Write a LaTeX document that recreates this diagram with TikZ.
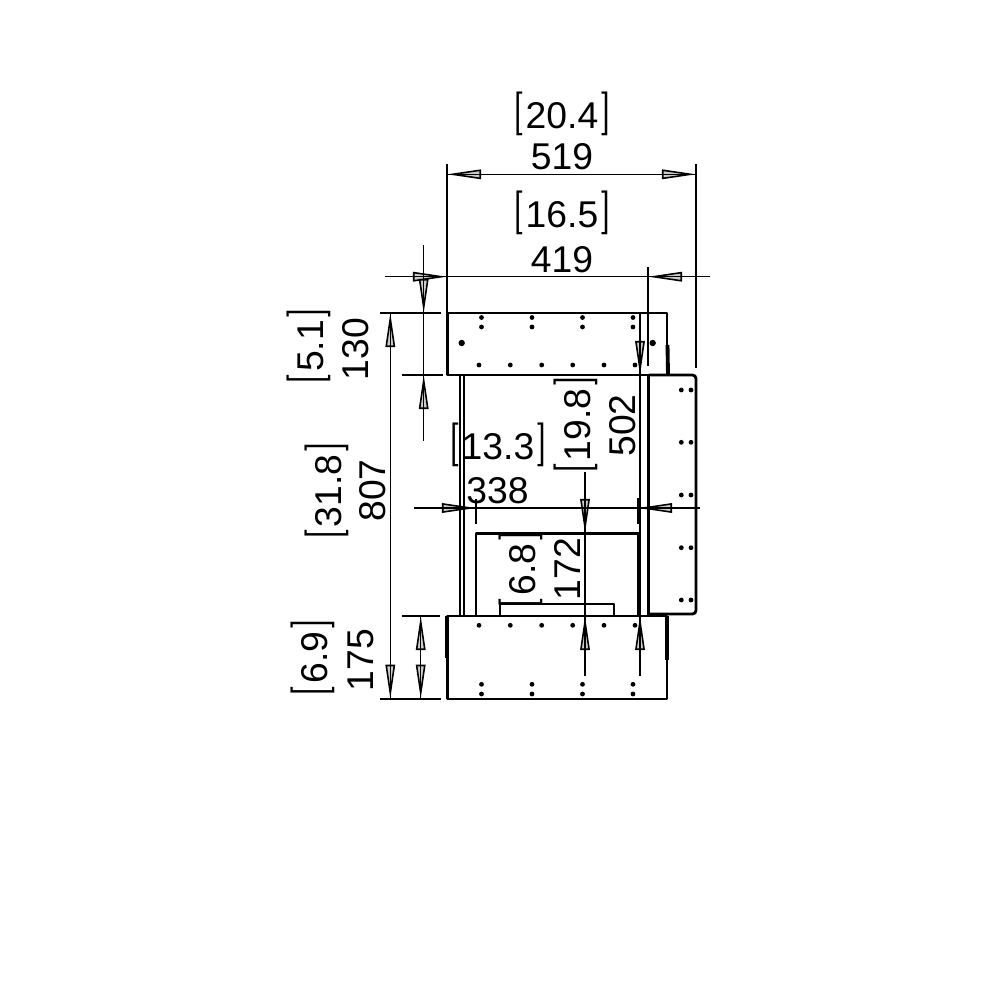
\documentclass[tikz,border=0pt]{standalone}
\usepackage{graphicx}
\usepackage{fontspec}
\setmainfont{Liberation Sans}
\newfontfamily\thinfont{Poppins Light}
\usetikzlibrary{arrows.meta}

\newcommand{\inch}[1]{{\thinfont\scalebox{1}[1.05]{[}}#1{\thinfont\scalebox{1}[1.05]{]}}}

\tikzset{
    body/.style={line width=0.8pt, line join=round},
    dimline/.style={line width=0.45pt},
    dimtip/.style={line width=0.4pt, -{Triangle[length=3.4mm, width=0.95mm, fill=gray!40, line width=0.45pt]}},
    label/.style={inner sep=0pt, font=\fontsize{10.6pt}{12pt}\selectfont},
    vlabel/.style={label, rotate=90}
}

\begin{document}
\begin{tikzpicture}[x=0.01cm, y=-0.01cm]
    \useasboundingbox[fill=white] (0, 0) rectangle (1000, 1000);

    % top box, bottom box, side panel
    \draw[body] (447.5, 313) rectangle (667, 375);
    \draw[body] (447.5, 616) rectangle (667, 699);
    \draw[body, rounded corners=1pt] (649, 375) -- (696, 375) -- (696, 614) -- (649, 614);
    \draw[body, line width=1.1pt] (667.5, 345) -- (668, 375);
    \draw[body, line width=1.1pt] (667, 616) -- (667, 660);
    \draw[body, line width=1.1pt] (447, 616) -- (447, 658);

    % walls and inner box
    \draw[body, line width=0.65pt] (459.7, 375) -- (459.7, 616);
    \draw[body, line width=0.65pt] (463.8, 375) -- (463.8, 616);
    \draw[body, line width=1pt] (648.5, 375) -- (648.5, 616);
    \draw[body] (476, 616) -- (476, 533.5) -- (638.5, 533.5);
    \draw[body, line width=1pt] (638.5, 533.5) -- (638.5, 616);
    \draw[body] (500, 616) -- (500, 604) -- (614, 604) -- (614, 616);

    % fixing holes
    \foreach \x in {481.5, 532, 582.5, 633} {
        \fill (\x, 317.5) circle[radius=2.4];
        \fill (\x, 327) circle[radius=2.4];
        \fill (\x, 684.3) circle[radius=2.4];
        \fill (\x, 694) circle[radius=2.4];
    }
    \foreach \x in {479, 510.3, 541.7, 572.7, 604, 635} {
        \fill (\x, 365) circle[radius=2.4];
        \fill (\x, 625.3) circle[radius=2.4];
    }
    \foreach \y in {390, 442.3, 495, 547.7, 600} {
        \fill (681.3, \y) circle[radius=2.4];
        \fill (691, \y) circle[radius=2.4];
    }
    \fill (461.7, 343) circle[radius=3.2];
    \fill (652.7, 343) circle[radius=3.2];

    % arrow heads
    \foreach \bx/\by/\tx/\ty in {
        484/174.3/447/174.3, 659/174.3/696/174.3,
        410/276.7/447/276.7, 685/276.7/648/276.7,
        423.7/276/423.7/313, 423.7/412/423.7/375,
        390.3/350/390.3/313, 390.3/662/390.3/698.7,
        420.7/653/420.7/616, 420.7/662/420.7/698.7,
        439/508/476/508, 675/508/638/508,
        585/496/585/533, 585/652/585/616,
        640/338/640/375, 640/652/640/616}
        \draw[dimtip] (\bx, \by) -- (\tx, \ty);

    % extension lines
    \draw[dimline] (447, 164) -- (447, 313);
    \draw[dimline] (696, 164) -- (696, 368);
    \draw[dimline] (648, 267) -- (648, 366);
    \draw[dimline] (380, 313) -- (441, 313);
    \draw[dimline] (402, 375) -- (443, 375);
    \draw[dimline] (402, 616) -- (440, 616);
    \draw[dimline] (380, 699) -- (441, 699);
    \draw[dimline] (476, 499) -- (476, 524);
    \draw[dimline] (638, 498) -- (638, 524);

    % dimension lines
    \draw[dimline] (447, 174.3) -- (696, 174.3);
    \draw[dimline] (385, 276.7) -- (710, 276.7);
    \draw[dimline] (414, 508) -- (700, 508);
    \draw[dimline] (423.7, 245) -- (423.7, 441);
    \draw[dimline] (390.3, 313) -- (390.3, 698.7);
    \draw[dimline] (420.7, 616) -- (420.7, 698.7);
    \draw[dimline] (585, 472) -- (585, 676);
    \draw[dimline] (640, 313) -- (640, 676);

    % labels
    \node[label] (widthIn) at (562, 113.5) {\inch{20.4}};
    \node[label] (widthMm) at (562, 157) {519};
    \node[label] (innerIn) at (562, 213) {\inch{16.5}};
    \node[label] (innerMm) at (562, 260) {419};
    \node[label] (depthIn) at (498, 445) {\inch{13.3}};
    \node[label] (depthMm) at (497.5, 491) {338};
    \node[vlabel] (topIn) at (309, 346) {\inch{5.1}};
    \node[vlabel] (topMm) at (355.5, 349) {130};
    \node[vlabel] (totalIn) at (326.5, 491) {\inch{31.8}};
    \node[vlabel] (totalMm) at (373, 490.5) {807};
    \node[vlabel] (baseIn) at (313, 657.7) {\inch{6.9}};
    \node[vlabel] (baseMm) at (360.5, 660) {175};
    \node[vlabel] (openIn) at (576, 425) {\inch{19.8}};
    \node[vlabel] (openMm) at (623, 425.5) {502};
    \node[vlabel] (fireIn) at (521, 569.7) {\inch{6.8}};
    \node[vlabel] (fireMm) at (567.5, 569) {172};
\end{tikzpicture}
\end{document}
